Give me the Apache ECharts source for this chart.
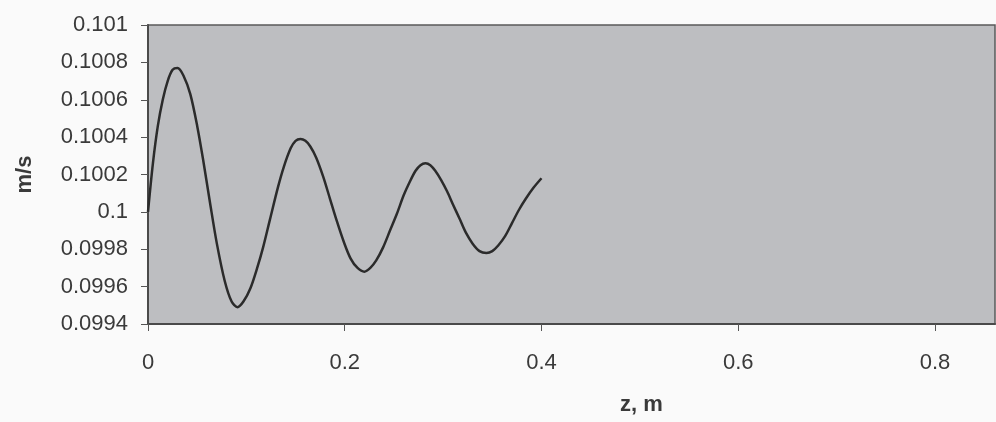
<!DOCTYPE html>
<html>
<head>
<meta charset="utf-8">
<script src="https://cdn.jsdelivr.net/npm/echarts@6/dist/echarts.min.js"></script>
<style>
  html, body { margin: 0; padding: 0; background: #fafafa; }
  #chart { width: 996px; height: 422px; }
</style>
</head>
<body>
<div id="chart"></div>
<script>
// z position along the column, m
const zValues = [
  0, 0.005, 0.010, 0.015, 0.020, 0.025, 0.030, 0.036, 0.043, 0.050,
  0.056, 0.063, 0.070, 0.078, 0.085, 0.091, 0.097, 0.104, 0.111, 0.117,
  0.124, 0.132, 0.138, 0.145, 0.150, 0.155, 0.160, 0.165, 0.171, 0.178,
  0.185, 0.192, 0.199, 0.206, 0.213, 0.220, 0.226, 0.232, 0.239, 0.246,
  0.253, 0.260, 0.266, 0.272, 0.277, 0.282, 0.287, 0.292, 0.298, 0.304,
  0.310, 0.317, 0.323, 0.330, 0.337, 0.344, 0.350, 0.356, 0.363, 0.370,
  0.377, 0.384, 0.392, 0.400
];
// velocity, m/s
const speedValues = [
  0.10000, 0.10026, 0.10046, 0.10060, 0.10070, 0.10076, 0.10077, 0.10073, 0.10063, 0.10046,
  0.10028, 0.10005, 0.09983, 0.09963, 0.09952, 0.09949, 0.09952, 0.09959, 0.09970, 0.09981,
  0.09996, 0.10013, 0.10024, 0.10034, 0.10038, 0.10039, 0.10038, 0.10035, 0.10029, 0.10019,
  0.10007, 0.09995, 0.09984, 0.09975, 0.09970, 0.09968, 0.09970, 0.09974, 0.09981, 0.09990,
  0.09999, 0.10009, 0.10016, 0.10022, 0.10025, 0.10026, 0.10025, 0.10022, 0.10017, 0.10011,
  0.10004, 0.09996, 0.09989, 0.09983, 0.09979, 0.09978, 0.09979, 0.09982, 0.09987, 0.09994,
  0.10001, 0.10007, 0.10013, 0.10018
];
const xTickValues = [0, 0.2, 0.4, 0.6, 0.8];

const textColor = '#3a3a3a';
const chart = echarts.init(document.getElementById('chart'));

chart.setOption({
  backgroundColor: '#fafafa',
  animation: false,
  grid: {
    left: 148,
    top: 25,
    right: 1,
    bottom: 98,
    show: true,
    backgroundColor: '#bdbec1',
    borderColor: '#5a5a5a',
    borderWidth: 1.5
  },
  xAxis: {
    type: 'value',
    min: 0,
    max: 0.861,
    name: 'z, m',
    nameLocation: 'middle',
    nameGap: 70,
    nameTextStyle: {
      fontFamily: 'Liberation Sans',
      fontSize: 22,
      fontWeight: 'bold',
      color: textColor,
      padding: [0, 0, 0, 140]
    },
    axisLine: { lineStyle: { color: '#4a4a4a', width: 2 } },
    axisTick: { customValues: xTickValues, length: 7, lineStyle: { color: '#555' } },
    axisLabel: {
      customValues: xTickValues,
      margin: 28,
      fontFamily: 'Liberation Sans',
      fontSize: 22,
      color: textColor,
      formatter: v => String(+(+v).toFixed(1))
    },
    splitLine: { show: false }
  },
  yAxis: {
    type: 'value',
    min: 0.0994,
    max: 0.101,
    interval: 0.0002,
    name: 'm/s',
    nameLocation: 'middle',
    nameGap: 112,
    nameTextStyle: {
      fontFamily: 'Liberation Sans',
      fontSize: 22,
      fontWeight: 'bold',
      color: textColor
    },
    axisLine: { show: true, lineStyle: { color: '#4a4a4a', width: 2 } },
    axisTick: { show: true, length: 7, lineStyle: { color: '#555' } },
    axisLabel: {
      margin: 20,
      fontFamily: 'Liberation Sans',
      fontSize: 22,
      color: textColor,
      formatter: v => String(+(+v).toFixed(4))
    },
    splitLine: { show: false }
  },
  series: [
    {
      type: 'line',
      data: zValues.map((z, i) => [z, speedValues[i]]),
      smooth: 0.3,
      showSymbol: false,
      lineStyle: { color: '#2b2b2b', width: 2.5 }
    }
  ]
});
</script>
</body>
</html>
